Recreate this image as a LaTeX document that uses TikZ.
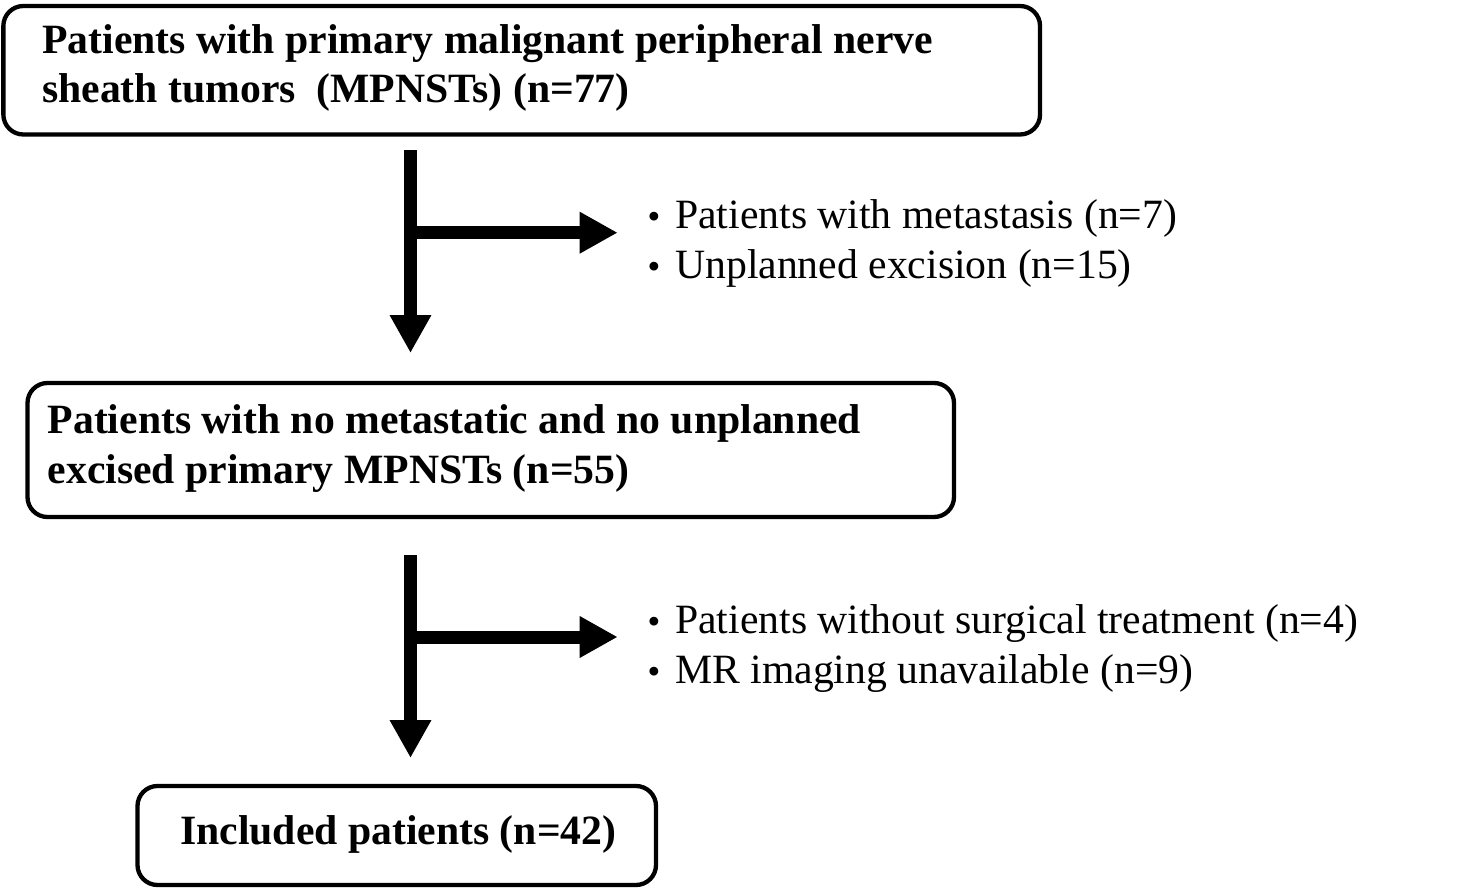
\documentclass[tikz,border=0pt]{standalone}
\usepackage{fontspec}
\setmainfont{Liberation Serif}
\newfontfamily\cjk{Noto Sans CJK JP}
\usetikzlibrary{arrows.meta}
\newcommand{\mydot}{\raisebox{-4pt}{\cjk ・}}
\begin{document}
\begin{tikzpicture}[x=1pt,y=-1pt,
  box/.style={draw=black,line width=4.3pt,rounded corners=20pt,inner sep=0pt,fill=white},
  lbl/.style={anchor=base west,inner sep=0pt,font=\fontsize{41.7}{49}\selectfont\bfseries},
  exl/.style={anchor=base west,inner sep=0pt,font=\fontsize{41.7}{49}\selectfont},
  arr/.style={line width=13pt,-{Triangle[width=39pt,length=38pt]}}]
\useasboundingbox[fill=white] (0,0) rectangle (1460,888);
% boxes
\node[box,minimum width=1036.7pt,minimum height=128.5pt] (box1) at (521.7,70.25) {};
\node[box,minimum width=926.5pt,minimum height=134pt] (box2) at (490.75,450) {};
\node[box,minimum width=518.5pt,minimum height=99pt] (box3) at (396.75,835.5) {};
% box texts
\node[lbl] (t1a) at (42,53.3) {Patients with primary malignant peripheral nerve};
\node[lbl] (t1b) at (42,103) {sheath tumors\ \ (MPNSTs) (n=77)};
\node[lbl] (t2a) at (47.5,433.5) {Patients with no metastatic and no unplanned};
\node[lbl] (t2b) at (47.5,483.5) {excised primary MPNSTs (n=55)};
\node[lbl] (t3) at (180,844) {Included patients (n=42)};
% exclusion texts
\node[exl] (ex1) at (633.3,228.3) {\mydot Patients with metastasis (n=7)};
\node[exl] (ex2) at (633.3,278.3) {\mydot Unplanned excision (n=15)};
\node[exl] (ex3) at (633.3,633.3) {\mydot Patients without surgical treatment (n=4)};
\node[exl] (ex4) at (633.3,683.3) {\mydot MR imaging unavailable (n=9)};
% connectors
\coordinate (spine) at (410.5,0);
\coordinate (b1) at (410.5,232.7);
\coordinate (b2) at (410.5,637);
\draw[arr] ([yshift=-13.35pt]box1.south -| spine) -- ([yshift=27.85pt]box2.north -| spine);
\draw[arr] (b1) -- ([xshift=-15.6pt]b1 -| ex1.west);
\draw[arr] ([yshift=-35.85pt]box2.south -| spine) -- ([yshift=25.85pt]box3.north -| spine);
\draw[arr] (b2) -- ([xshift=-15.6pt]b2 -| ex3.west);
\end{tikzpicture}
\end{document}
